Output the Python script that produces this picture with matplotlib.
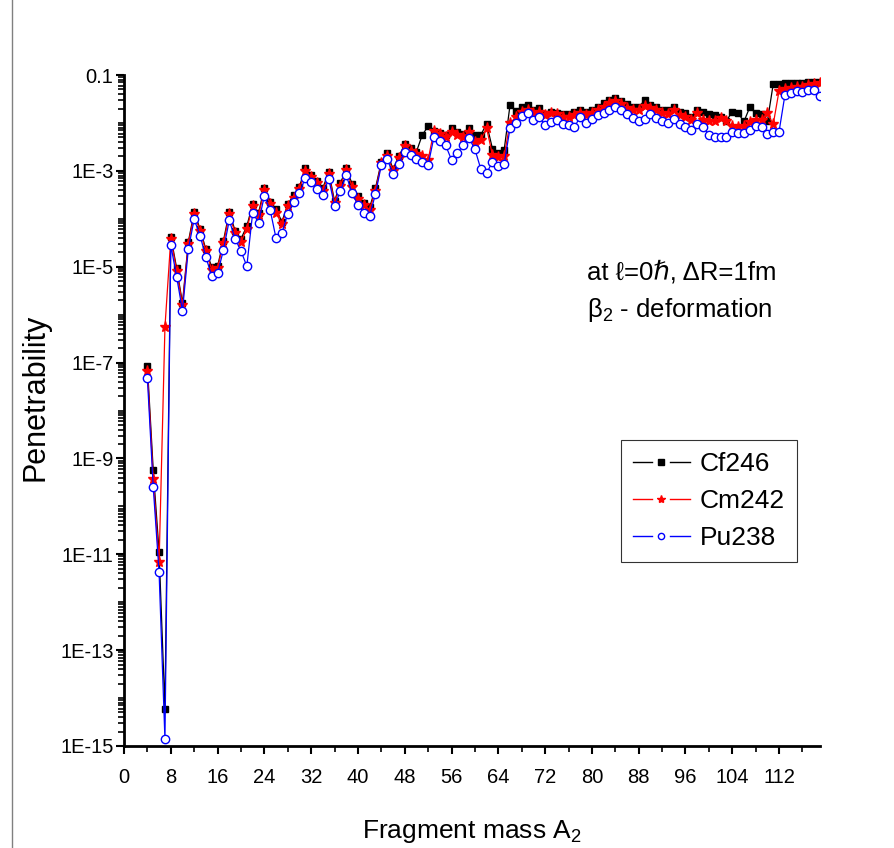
import numpy as np
import matplotlib
matplotlib.use("Agg")
import matplotlib.pyplot as plt
from matplotlib.lines import Line2D
from matplotlib.legend_handler import HandlerBase
from matplotlib.ticker import FixedLocator, FixedFormatter, LogLocator, MultipleLocator, NullFormatter

plt.rcParams["font.family"] = ["Liberation Sans", "DejaVu Sans"]
plt.rcParams["mathtext.fontset"] = "custom"
plt.rcParams["mathtext.rm"] = "Liberation Sans"
plt.rcParams["mathtext.it"] = "Liberation Sans:italic"

# ── Data: fragment mass A2 and log10(penetrability) ─────────────────────────
a2 = np.arange(4, 120)

cf246_log = [
    -7.07, -9.25, -10.95, -14.23, -4.37, -5.03, -5.76, -4.48, -3.86, -4.21,
    -4.64, -5.01, -4.99, -4.46, -3.86, -4.25, -4.42, -4.15, -3.70, -3.88,
    -3.35, -3.64, -3.80, -4.06, -3.70, -3.50, -3.33, -2.94, -3.08, -3.22,
    -3.36, -3.02, -3.63, -3.26, -2.95, -3.27, -3.53, -3.67, -3.76, -3.36,
    -2.81, -2.63, -2.96, -2.70, -2.44, -2.53, -2.60, -2.25, -2.07, -2.16,
    -2.21, -2.25, -2.10, -2.18, -2.23, -2.11, -2.25, -2.25, -2.02, -2.54,
    -2.62, -2.56, -1.63, -1.75, -1.66, -1.63, -1.73, -1.69, -1.81, -1.77,
    -1.79, -1.82, -1.81, -1.77, -1.72, -1.77, -1.73, -1.66, -1.59, -1.52,
    -1.47, -1.54, -1.61, -1.66, -1.67, -1.53, -1.63, -1.67, -1.72, -1.74,
    -1.66, -1.77, -1.80, -1.87, -1.72, -1.77, -1.81, -1.83, -1.87, -1.95,
    -1.77, -1.80, -1.97, -1.67, -1.80, -1.81, -1.97, -1.19, -1.19, -1.17,
    -1.16, -1.16, -1.16, -1.14, -1.14, -1.14,
]

cm242_log = [
    -7.17, -9.43, -11.17, -6.26, -4.42, -5.08, -5.80, -4.52, -3.91, -4.25,
    -4.68, -5.06, -5.03, -4.51, -3.91, -4.30, -4.49, -4.21, -3.74, -3.93,
    -3.40, -3.69, -3.88, -4.11, -3.74, -3.56, -3.38, -3.00, -3.13, -3.26,
    -3.41, -3.07, -3.67, -3.31, -2.99, -3.33, -3.59, -3.72, -3.81, -3.41,
    -2.84, -2.68, -3.00, -2.74, -2.48, -2.58, -2.65, -2.70, -2.77, -2.16,
    -2.23, -2.29, -2.18, -2.25, -2.29, -2.18, -2.39, -2.36, -2.11, -2.67,
    -2.72, -2.69, -2.00, -1.88, -1.77, -1.72, -1.79, -1.77, -1.83, -1.80,
    -1.82, -1.87, -1.88, -1.84, -1.79, -1.84, -1.80, -1.73, -1.66, -1.59,
    -1.54, -1.61, -1.68, -1.73, -1.74, -1.65, -1.69, -1.74, -1.79, -1.81,
    -1.73, -1.84, -1.87, -1.94, -1.79, -1.94, -1.97, -1.96, -1.90, -1.97,
    -2.06, -2.08, -2.06, -1.99, -1.94, -1.94, -1.80, -2.03, -1.33, -1.30,
    -1.28, -1.26, -1.24, -1.21, -1.19, -1.16,
]

pu238_log = [
    -7.33, -9.60, -11.38, -14.86, -4.55, -5.21, -5.92, -4.63, -4.01, -4.35,
    -4.80, -5.19, -5.14, -4.65, -4.03, -4.42, -4.67, -4.99, -3.87, -4.08,
    -3.52, -3.82, -4.41, -4.30, -3.89, -3.66, -3.47, -3.14, -3.24, -3.38,
    -3.50, -3.16, -3.73, -3.42, -3.09, -3.47, -3.71, -3.87, -3.94, -3.48,
    -2.88, -2.75, -3.07, -2.85, -2.60, -2.67, -2.75, -2.81, -2.88, -2.29,
    -2.37, -2.47, -2.77, -2.63, -2.46, -2.32, -2.55, -2.96, -3.05, -2.81,
    -2.90, -2.86, -2.11, -2.01, -1.86, -1.80, -1.94, -1.88, -2.04, -1.98,
    -1.94, -2.03, -2.05, -2.09, -1.87, -2.00, -1.92, -1.84, -1.80, -1.74,
    -1.67, -1.74, -1.82, -1.90, -1.97, -1.91, -1.81, -1.90, -1.97, -2.00,
    -1.92, -2.03, -2.09, -2.15, -2.02, -2.08, -2.25, -2.29, -2.30, -2.29,
    -2.18, -2.22, -2.22, -2.15, -2.06, -2.08, -2.23, -2.18, -2.18, -1.42,
    -1.38, -1.33, -1.35, -1.31, -1.31, -1.44,
]

y_ticks = [1e-15, 1e-13, 1e-11, 1e-9, 1e-7, 1e-5, 1e-3, 1e-1]
y_ticklabels = ["1E-15", "1E-13", "1E-11", "1E-9", "1E-7", "1E-5", "1E-3", "0.1"]
x_ticks = np.arange(0, 113, 8)

SERIES = [
    ("Cf246", cf246_log, dict(color="black", marker="s", ms=5, mfc="black", mec="black")),
    ("Cm242", cm242_log, dict(color="red", marker="*", ms=8, mfc="red", mec="red")),
    ("Pu238", pu238_log, dict(color="blue", marker="o", ms=6, mfc="white", mec="blue", mew=1.0)),
]


class GapHandler(HandlerBase):
    """Origin-style legend key: line — marker — line with gaps."""
    def create_artists(self, legend, orig, xd, yd, w, h, fs, trans):
        y = h / 2 - yd
        x0 = -xd
        c = orig.get_color()
        l1 = Line2D([x0, x0 + 0.34 * w], [y, y], color=c, lw=1.0)
        l2 = Line2D([x0 + 0.66 * w, x0 + w], [y, y], color=c, lw=1.0)
        m = Line2D([x0 + w / 2], [y], ls="none", marker=orig.get_marker(),
                   ms=orig.get_markersize() * 0.75, mfc=orig.get_markerfacecolor(),
                   mec=orig.get_markeredgecolor(), mew=orig.get_markeredgewidth())
        for a in (l1, l2, m):
            a.set_transform(trans)
        return [l1, l2, m]


fig = plt.figure(figsize=(8.94, 8.48), dpi=100)
ax = fig.add_axes([124 / 894, 1 - 746 / 848, (820 - 124) / 894, (746 - 75) / 848])

handles = []
for name, vals, style in SERIES:
    ln, = ax.plot(a2, 10.0 ** np.array(vals), lw=0.9, label=name, **style)
    handles.append(ln)

ax.set_yscale("log")
ax.set_ylim(1e-15, 1e-1)
ax.set_xlim(0, 119)

ax.yaxis.set_major_locator(FixedLocator(y_ticks))
ax.yaxis.set_major_formatter(FixedFormatter(y_ticklabels))
ax.yaxis.set_minor_locator(LogLocator(base=10, subs=np.arange(1, 10), numticks=40))
ax.yaxis.set_minor_formatter(NullFormatter())
ax.xaxis.set_major_locator(FixedLocator(x_ticks))
ax.xaxis.set_minor_locator(MultipleLocator(4))

for s in ("top", "right"):
    ax.spines[s].set_visible(False)
for s in ("left", "bottom"):
    ax.spines[s].set_linewidth(2.0)

ax.tick_params(which="major", direction="out", length=6, width=1.5, labelsize=14.5)
ax.tick_params(which="minor", direction="out", length=4, width=1.2)
ax.tick_params(axis="y", which="major", pad=1.5)
ax.tick_params(axis="x", which="major", pad=10)

ax.set_xlabel("Fragment mass A$_2$", fontsize=19, labelpad=22)
ax.set_ylabel("Penetrability", fontsize=22)
ax.yaxis.set_label_coords(-0.106, 0.52)

ax.text(0.665, 0.705, "at \u2113=0\u210f, \u0394R=1fm", transform=ax.transAxes,
        fontsize=18.5, ha="left", va="center")
ax.text(0.665, 0.65, "\u03b2$_2$ - deformation", transform=ax.transAxes,
        fontsize=18.5, ha="left", va="center")

leg = ax.legend(handles=handles, handler_map={Line2D: GapHandler()},
                loc="upper left", bbox_to_anchor=(0.714, 0.456),
                borderaxespad=0, frameon=True, fancybox=False, edgecolor="black",
                fontsize=19, handlelength=2.15, handletextpad=0.4,
                labelspacing=0.5, borderpad=0.45)
leg.get_frame().set_linewidth(0.8)

# figure frame line on the left edge
fig.add_artist(Line2D([12 / 894, 12 / 894], [0, 1], color="#808080", lw=1.0,
                      transform=fig.transFigure))

fig.savefig("out.png", dpi=100)
